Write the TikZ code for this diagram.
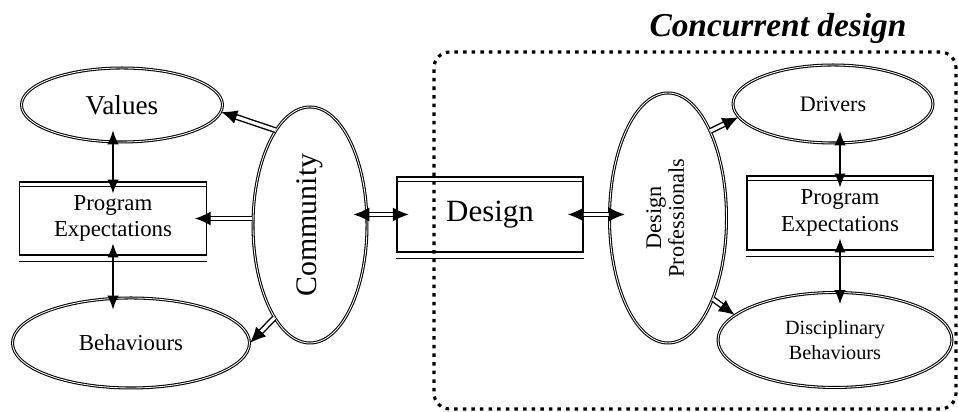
\documentclass[tikz,border=0pt]{standalone}
\usepackage{fontspec}
\setmainfont{Liberation Serif}
\usetikzlibrary{shapes.geometric, arrows.meta}

\begin{document}
\begin{tikzpicture}[
    oval/.style={ellipse, draw, double, double distance=0.5pt, line width=0.6pt, inner sep=0pt, align=center},
    box/.style={rectangle, draw, line width=0.8pt, inner sep=0pt, align=center},
    twoway/.style={{Latex[length=8pt,width=6.5pt]}-{Latex[length=8pt,width=6.5pt]}, line width=1pt,
                   shorten <=-7pt, shorten >=-7pt},
    thick link/.style={double, double distance=1.8pt, line width=0.8pt, -{Latex[length=9pt,width=8pt]}},
    thick twoway/.style={double, double distance=1.8pt, line width=0.8pt,
                         {Latex[length=9pt,width=8pt]}-{Latex[length=9pt,width=8pt]}}
]
    \useasboundingbox (0,0) rectangle (19.16,8.24);

    % concurrent design frame
    \node[draw, line width=1.8pt, dash pattern=on 2pt off 2.9pt, rounded corners=9pt,
          minimum width=10.44cm, minimum height=7.14cm](frame) at (13.9,3.63) {};
    \node[font=\fontsize{19}{22}\selectfont\bfseries\itshape](frametitle) at (15.56,7.68) {Concurrent design};

    % community side
    \node[oval, font=\fontsize{15.5}{18}\selectfont, minimum width=4.02cm, minimum height=1.48cm](values) at (2.44,6.14) {Values};
    \node[box, font=\fontsize{13}{15.3}\selectfont, minimum width=3.74cm, minimum height=1.46cm](progL)  at (2.26,3.87) {Program\\Expectations};
    \node[oval, font=\fontsize{13}{15}\selectfont, minimum width=4.74cm, minimum height=1.8cm](behav)    at (2.62,1.38) {Behaviours};
    \node[oval, font=\fontsize{17}{20}\selectfont, minimum width=2.28cm, minimum height=4.72cm](comm)    at (6.2,3.74) {\rotatebox{90}{Community}};

    % design
    \node[box, font=\fontsize{17.6}{20}\selectfont, minimum width=3.72cm, minimum height=1.5cm](design)  at (9.8,3.95) {Design};

    % professionals side
    \node[oval, font=\fontsize{12.7}{13}\selectfont, minimum width=2.34cm, minimum height=5.0cm](dp)     at (13.36,3.88)
        {\rotatebox{90}{\begin{tabular}{@{}c@{}}Design\\Professionals\end{tabular}}};
    \node[oval, font=\fontsize{12.6}{15}\selectfont, minimum width=4.0cm, minimum height=1.56cm](drivers) at (16.66,6.16) {Drivers};
    \node[box, font=\fontsize{13}{15.3}\selectfont, minimum width=3.72cm, minimum height=1.48cm](progR)  at (16.8,3.98) {Program\\Expectations};
    \node[oval, font=\fontsize{11.5}{14}\selectfont, minimum width=4.68cm, minimum height=1.9cm](discip)  at (16.7,1.44) {Disciplinary\\Behaviours};

    % second rule on the boxes
    \foreach \b in {progL, design, progR} {
        \draw[line width=0.5pt] ([yshift=-3pt]\b.north west) -- ([yshift=-3pt]\b.north east);
        \draw[line width=0.5pt] ([yshift=-3pt]\b.south west) -- ([yshift=-3pt]\b.south east);
    }

    \path
        (progL.north)
            edge [twoway] (progL.north |- values.south)
        (progL.south)
            edge [twoway] (progL.south |- behav.north)
        (comm.110)
            edge [thick link] (values.-4)
        (progL.east -| comm.west)
            edge [thick link, shorten >=-7pt] (progL.east)
        (comm.249)
            edge [thick link] (behav.0)
        (comm.east |- design.west)
            edge [thick twoway, shorten <=-8pt, shorten >=-7pt] (design.west)
        (design.east)
            edge [thick twoway, shorten <=-9pt, shorten >=-9pt] (dp.west |- design.east)
        (dp.64)
            edge [thick link] (drivers.188)
        (dp.-61)
            edge [thick link] (discip.166)
        (progR.north)
            edge [twoway] (progR.north |- drivers.south)
        (progR.south)
            edge [twoway] (progR.south |- discip.north)
        ;
\end{tikzpicture}
\end{document}
